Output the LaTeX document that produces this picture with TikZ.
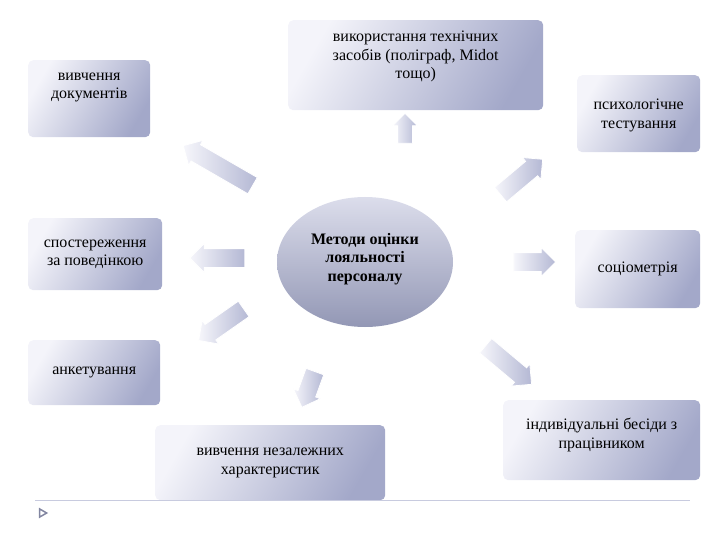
\documentclass[tikz,border=0pt]{standalone}
\usepackage{fontspec}
\setmainfont{Liberation Serif}
\usetikzlibrary{shapes.arrows,shapes.geometric}
\definecolor{boxL}{HTML}{F4F4FA}
\definecolor{boxD}{HTML}{A3A8C9}
\definecolor{arrL}{HTML}{F6F6FB}
\definecolor{arrD}{HTML}{B4B8D4}
\begin{document}
\begin{tikzpicture}[x=1pt,y=-1pt,
  box/.style={rounded corners=5pt, shading=axis, left color=boxL, right color=boxD, shading angle=60, align=center, font=\fontsize{16}{18.5}\selectfont, inner sep=2pt},
  arr/.style={single arrow, draw=white, line width=0.8pt, shading=axis, left color=arrL, right color=arrD, single arrow head extend=5pt, minimum height=46pt, inner xsep=0pt, inner ysep=9pt}]
\useasboundingbox (0,0) rectangle (720,540);
% boxes
\node[box, minimum width=122pt, minimum height=77pt, anchor=north west, text depth=26pt] (doc) at (28,60) {вивчення\\документів};
\node[box, minimum width=255pt, minimum height=90pt, anchor=north west, text depth=20pt] (tech) at (288,20) {використання технічних\\засобів (поліграф,  Midot\\тощо)};
\node[box, minimum width=123pt, minimum height=77pt, anchor=north west, text depth=0pt] (psy) at (577,75) {психологічне\\тестування};
\node[box, minimum width=134pt, minimum height=72pt, anchor=north west] (obs) at (28,218) {спостереження\\за поведінкою};
\node[box, minimum width=125pt, minimum height=78pt, anchor=north west] (soc) at (575,230) {соціометрія};
\node[box, minimum width=132pt, minimum height=65pt, anchor=north west] (ank) at (28,340) {анкетування};
\node[box, minimum width=230pt, minimum height=75pt, anchor=north west] (ind) at (155,425) {вивчення незалежних\\характеристик};
\node[box, minimum width=197pt, minimum height=80pt, anchor=north west, text depth=14pt] (bes) at (503,400) {індивідуальні бесіди з\\працівником};
% center
\node[ellipse, minimum width=176pt, minimum height=130pt, shading=axis, top color=boxL!70!boxD, bottom color=boxD!90!black, align=center, font=\fontsize{16}{18.5}\bfseries\selectfont, text depth=10pt] (c) at (365,262) {Методи оцінки\\лояльності\\персоналу};
% arrows
\node[arr, rotate=150, minimum height=80pt] (a1) at (222,168) {};
\node[arr, rotate=90, minimum height=30pt, inner ysep=7pt] (a2) at (405,132) {};
\node[arr, rotate=40, minimum height=55pt] (a3) at (518,180) {};
\node[arr, rotate=180, minimum height=55pt] (a4) at (222,258) {};
\node[arr, rotate=0, minimum height=42pt] (a5) at (530,262) {};
\node[arr, rotate=215, minimum height=55pt] (a6) at (225,322) {};
\node[arr, rotate=250, minimum height=38pt] (a7) at (310,385) {};
\node[arr, rotate=-40, minimum height=60pt] (a8) at (505,362) {};
% bottom line
\coordinate (l1) at (35,500); \coordinate (l2) at (690,500);
\draw[boxD!60, line width=0.8pt] (l1) -- (l2);
\node[isosceles triangle, isosceles triangle apex angle=60, draw=boxD!80!black, line width=1.5pt, minimum size=7pt, inner sep=0pt] (tri) at (42,513) {};
\end{tikzpicture}
\end{document}
